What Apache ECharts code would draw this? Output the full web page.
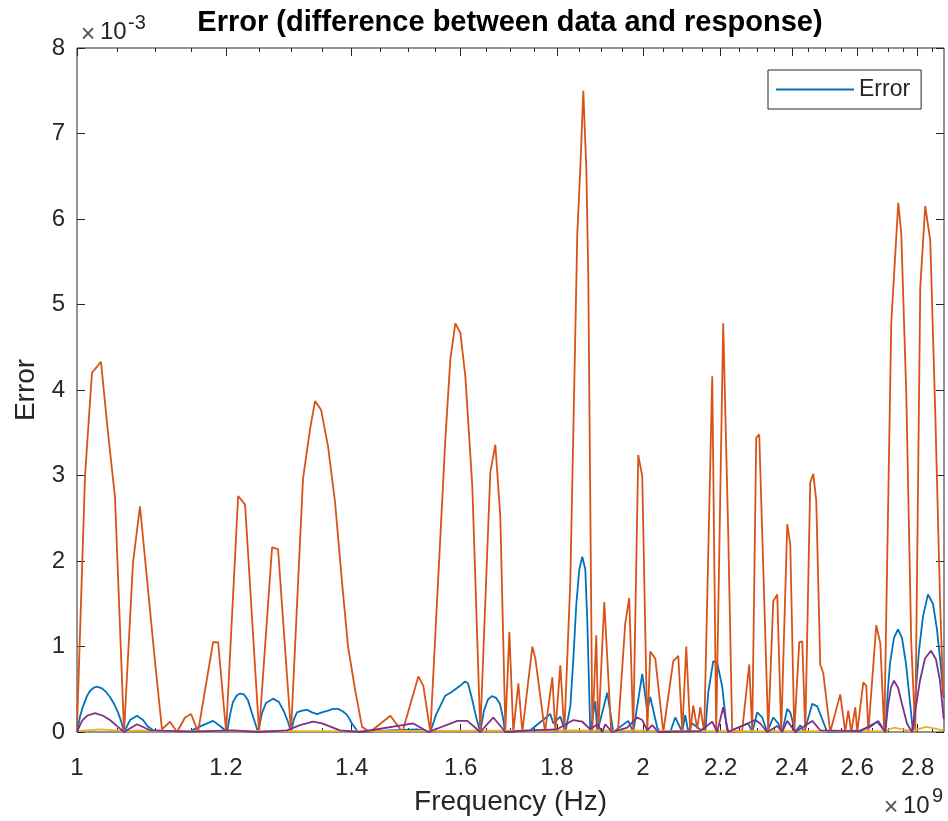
<!DOCTYPE html>
<html><head><meta charset="utf-8">
<script src="https://cdn.jsdelivr.net/npm/echarts@6/dist/echarts.min.js"></script>
<style>html,body{margin:0;padding:0;background:#fff}#c{width:948px;height:821px}</style>
</head><body><div id="c"></div>
<script>
// x in units of 1e9 Hz, y in units of 1e-3
const xTickLabels = [1, 1.2, 1.4, 1.6, 1.8, 2, 2.2, 2.4, 2.6, 2.8];
const xMinorTicks = [1.05,1.1,1.15,1.25,1.3,1.35,1.45,1.5,1.55,1.65,1.7,1.75,1.85,1.9,1.95,2.05,2.1,2.15,2.25,2.3,2.35,2.45,2.5,2.55,2.65,2.7,2.75,2.85];
const yTickLabels = [0, 1, 2, 3, 4, 5, 6, 7, 8];

const blueFreq = [1.000,1.0037,1.0074,1.0123,1.0160,1.0210,1.0248,1.0311,1.0361,1.0412,1.0464,1.0515,1.0554,1.0593,
1.0671,1.0763,1.0842,1.0900,1.0976,1.1206,1.1484,1.1670,1.1814,1.1916,
1.2019,1.2061,1.2105,1.2165,1.2210,1.2270,1.2330,1.2390,1.2482,
1.2543,1.2605,1.2713,1.2807,1.2885,1.2949,1.2997,
1.3044,1.3093,1.3174,1.3254,1.3336,1.3418,1.3500,1.3600,1.3684,1.3768,1.3852,1.3920,1.4005,1.4109,
1.4679,1.5172,1.5416,1.5523,1.5694,1.5830,1.5986,1.6084,1.6143,1.6222,1.6302,1.6388,
1.6462,1.6543,1.6624,1.6706,1.6788,1.6849,1.6891,
1.7424,1.7856,1.7922,1.8076,1.8187,1.8299,1.8366,1.8434,1.8501,1.8569,1.8638,1.8683,1.8752,
1.8867,1.8913,1.9146,1.9287,
1.9644,1.9765,1.9984,2.0107,2.0181,2.0355,2.0430,2.0682,2.0809,2.0988,
2.1065,2.1142,2.1246,2.1455,2.1587,2.1666,2.1799,2.1906,2.2040,2.2176,
2.2754,2.2866,2.3006,2.3148,2.3290,2.3462,2.3606,2.3722,2.3868,2.3956,
2.4103,2.4251,2.4371,2.4611,2.4761,2.5066,2.6101,2.6424,2.6683,2.6913,
2.7001,2.7068,2.7201,2.7335,2.7469,2.7604,2.7740,2.7842,
2.7944,2.8047,2.8185,2.8358,2.8532,2.8672,2.8813,2.8910];
const blueErr = [0,0.18,0.3,0.42,0.48,0.52,0.53,0.51,0.47,0.41,0.33,0.23,0.13,0,
0.14,0.19,0.14,0.07,0.02,0.01,0.01,0.08,0.13,0.07,
0,0.2,0.35,0.43,0.45,0.44,0.37,0.22,0,
0.22,0.34,0.39,0.35,0.24,0.12,0,
0.15,0.23,0.25,0.26,0.23,0.21,0.23,0.25,0.27,0.27,0.24,0.2,0.1,0,
0.02,0.03,0,0.2,0.42,0.47,0.54,0.59,0.57,0.39,0.18,0,
0.25,0.38,0.42,0.4,0.33,0.17,0,
0.02,0.21,0.1,0.18,0,0.3,0.85,1.5,1.9,2.05,1.9,1.3,0,
0.36,0,0.46,0,
0.13,0,0.68,0.25,0.41,0.05,0,0,0.17,0,
0.2,0,0.1,0.03,0,0.46,0.83,0.81,0.53,0,
0.1,0,0.23,0.17,0,0.17,0.1,0,0.27,0.23,
0,0.08,0,0.33,0.3,0,0.02,0.06,0.13,0,
0.5,0.8,1.1,1.2,1.1,0.8,0.35,0,
0.5,0.95,1.35,1.61,1.5,1.2,0.75,0.4];

const orangeFreq = [1.000,1.0099,1.0185,1.0298,1.0387,1.0476,1.0593,1.0710,1.0802,1.0895,
1.1003,1.1097,1.1206,1.1303,1.1415,1.1499,1.1598,1.1814,1.1887,1.2004,
1.2182,1.2286,1.2498,1.2699,1.2792,1.2997,1.3189,1.3303,1.3385,1.3484,
1.3600,1.3717,1.3835,1.3937,1.4057,1.4178,1.4317,1.4679,1.4897,1.5191,
1.5284,1.5416,1.5701,1.5798,1.5895,1.5992,1.6091,1.6229,1.6388,1.6591,
1.6693,1.6795,1.6899,1.6982,1.7065,1.7170,1.7254,1.7467,1.7531,1.7740,
1.7900,1.7966,1.8076,1.8165,1.8299,1.8456,1.8524,1.8592,1.8661,1.8706,
1.8798,1.8890,1.8936,1.9076,1.9239,1.9399,1.9572,1.9668,1.9765,1.9886,
1.9984,2.0107,2.0181,2.0305,2.0505,2.0758,2.0886,2.0988,2.1091,2.1194,
2.1272,2.1376,2.1455,2.1560,2.1773,2.1879,2.2067,2.2203,2.2312,2.2587,
2.2782,2.2866,2.2978,2.3063,2.3318,2.3462,2.3577,2.3693,2.3868,2.3956,
2.4074,2.4222,2.4311,2.4401,2.4550,2.4641,2.4731,2.4852,2.4944,2.5158,
2.5469,2.5626,2.5720,2.5815,2.5942,2.6006,2.6198,2.6294,2.6359,2.6618,
2.6749,2.6880,2.7111,2.7345,2.7445,2.7614,2.7783,2.7920,2.8091,2.8263,
2.8437,2.8611,2.8787,2.8893];
const orangeErr = [0.05,3.0,4.2,4.33,3.5,2.75,0,1.98,2.64,1.79,
0.82,0.03,0.12,0,0.17,0.21,0,1.05,1.05,0,
2.76,2.66,0,2.16,2.14,0,2.96,3.54,3.87,3.77,
3.34,2.69,1.75,1.0,0.5,0.06,0,0.19,0,0.65,
0.54,0,3.42,4.36,4.78,4.67,4.16,2.87,0,3.04,
3.36,2.52,0.03,1.17,0,0.57,0,1.0,0.86,0,
0.64,0,0.78,0,1.77,5.83,6.59,7.5,6.59,5.32,
0,1.13,0,1.52,0,0.02,1.27,1.57,0,3.24,
2.99,0,0.94,0.86,0,0.83,0.89,0,1.0,0,
0.31,0.04,0.29,0,4.16,0,4.78,2.33,0,0.02,
0.79,0,3.44,3.48,0,1.53,1.61,0,2.43,2.2,
0,1.05,1.06,0,2.92,3.02,2.71,0.79,0.69,0,
0.44,0,0.25,0,0.29,0,0.58,0.54,0,1.25,
1.04,0,4.79,6.19,5.83,3.96,1.04,0,5.2,6.15,
5.75,3.75,1.46,0.42];

const yellowFreq = [1.000,1.03,1.06,1.08,1.10,1.40,1.85,2.20,2.60,2.69,2.72,2.78,2.83,2.89];
const yellowErr = [0.01,0.03,0.01,0.02,0.01,0.01,0.02,0.01,0.01,0.01,0.05,0.01,0.06,0.02];

const purpleFreq = [1.000,1.0061,1.0123,1.0223,1.0324,1.0412,1.0515,1.0593,1.0763,1.0935,1.1484,1.2107,1.2483,
1.2934,1.3141,1.3352,1.3500,1.3800,1.4143,1.5098,1.5378,1.5934,1.6130,
1.6388,1.6652,1.6899,1.7424,1.7996,1.8366,1.8569,1.8752,1.8913,1.9029,
1.9099,1.9263,1.9620,1.9862,1.9984,2.0107,2.0230,2.0380,2.1455,2.1773,
2.1906,2.2067,2.2203,2.2950,2.3091,2.3290,2.3577,2.3722,2.3868,2.4103,
2.4611,2.4852,2.6101,2.6650,2.6913,
2.7001,2.7101,2.7201,2.7335,2.7469,2.7638,2.7808,
2.7944,2.8081,2.8254,2.8462,2.8637,2.8778,2.8910];
const purpleErr = [0,0.13,0.19,0.22,0.19,0.14,0.06,0,0.09,0.02,0.005,0.02,0,
0.02,0.08,0.12,0.1,0.02,0,0.1,0,0.13,0.13,
0,0.17,0,0.02,0.03,0.14,0.12,0.03,0.09,0,
0.09,0,0.05,0.17,0.14,0.02,0.08,0,0.01,0.12,
0,0.29,0,0.14,0.1,0,0.07,0,0.13,0,
0.13,0.02,0.01,0.12,0,
0.3,0.52,0.6,0.52,0.33,0.1,0,
0.3,0.6,0.86,0.95,0.85,0.6,0.15];

const FONT = '"Liberation Sans", Arial, Helvetica, sans-serif';
const INK = '#262626';
const pairs = (xs, ys) => xs.map((x, i) => [x, ys[i]]);
const fmt = v => String(+(+v).toFixed(2));

function xAx(pos, ticks, len, labels) {
  return {
    type: 'log', logBase: 10, min: 1, max: 2.892, position: pos,
    axisLine: { show: false },
    axisTick: { show: true, inside: true, length: len, customValues: ticks, lineStyle: { color: INK, width: 1 } },
    axisLabel: labels ? { show: true, customValues: ticks, formatter: fmt, fontSize: 24, color: INK, fontFamily: FONT, margin: 24 } : { show: false },
    splitLine: { show: false }, minorTick: { show: false }, minorSplitLine: { show: false }
  };
}
const xMain = xAx('bottom', xTickLabels, 8, true);
xMain.name = 'Frequency (Hz)';
xMain.nameLocation = 'middle';
xMain.nameGap = 56;
xMain.nameTextStyle = { fontSize: 28, color: INK, fontFamily: FONT };

function yAx(pos, labels) {
  return {
    type: 'value', min: 0, max: 8, interval: 1, position: pos,
    axisLine: { show: false },
    axisTick: { show: true, inside: true, length: 8, lineStyle: { color: INK } },
    axisLabel: labels ? { show: true, fontSize: 24, color: INK, fontFamily: FONT, margin: 12, formatter: fmt } : { show: false },
    splitLine: { show: false }
  };
}
const yMain = yAx('left', true);
yMain.name = 'Error';
yMain.nameLocation = 'middle';
yMain.nameGap = 37;
yMain.nameRotate = 90;
yMain.nameTextStyle = { fontSize: 28, color: INK, fontFamily: FONT };

const lineSeries = (name, xs, ys, color) => ({
  name, type: 'line', data: pairs(xs, ys), xAxisIndex: 0, yAxisIndex: 0,
  showSymbol: false, symbol: 'none', smooth: false, animation: false,
  lineStyle: { color, width: 1.8 }, itemStyle: { color }, z: 2
});

const chart = echarts.init(document.getElementById('c'), null, { renderer: 'canvas' });
chart.setOption({
  animation: false,
  backgroundColor: '#fff',
  grid: { left: 77, right: 4, top: 48, bottom: 88, show: true, borderColor: INK, borderWidth: 1, backgroundColor: 'transparent' },
  xAxis: [xMain, xAx('bottom', xMinorTicks, 4, false), xAx('top', xTickLabels, 8, false), xAx('top', xMinorTicks, 4, false)],
  yAxis: [yMain, yAx('right', false)],
  legend: {
    data: ['Error'], left: 768, top: 70, icon: 'rect', itemWidth: 78, itemHeight: 2,
    padding: [8, 11, 8, 8], borderColor: INK, borderWidth: 1, backgroundColor: '#fff', borderRadius: 0,
    textStyle: { fontSize: 23, color: INK, fontFamily: FONT }
  },
  series: [
    lineSeries('Error', blueFreq, blueErr, '#0072BD'),
    lineSeries('Error 2', orangeFreq, orangeErr, '#D95319'),
    lineSeries('Error 3', yellowFreq, yellowErr, '#EDB120'),
    lineSeries('Error 4', purpleFreq, purpleErr, '#7E2F8E')
  ],
  graphic: [
    { type: 'text', x: 510, y: 23, style: { text: 'Error (difference between data and response)', font: 'bold 29px ' + FONT, fill: '#000', textAlign: 'center', textVerticalAlign: 'middle' } },
    { type: 'text', x: 88, y: 35, style: { text: '×', font: '25px ' + FONT, fill: '#555', textAlign: 'center', textVerticalAlign: 'middle' } },
    { type: 'text', x: 100, y: 32, style: { text: '10', font: '24px ' + FONT, fill: INK, textAlign: 'left', textVerticalAlign: 'middle' } },
    { type: 'text', x: 128, y: 23, style: { text: '-3', font: '20px ' + FONT, fill: INK, textAlign: 'left', textVerticalAlign: 'middle' } },
    { type: 'text', x: 891, y: 808, style: { text: '×', font: '25px ' + FONT, fill: '#555', textAlign: 'center', textVerticalAlign: 'middle' } },
    { type: 'text', x: 903, y: 806, style: { text: '10', font: '24px ' + FONT, fill: INK, textAlign: 'left', textVerticalAlign: 'middle' } },
    { type: 'text', x: 932, y: 796, style: { text: '9', font: '20px ' + FONT, fill: INK, textAlign: 'left', textVerticalAlign: 'middle' } }
  ]
});
</script></body></html>
